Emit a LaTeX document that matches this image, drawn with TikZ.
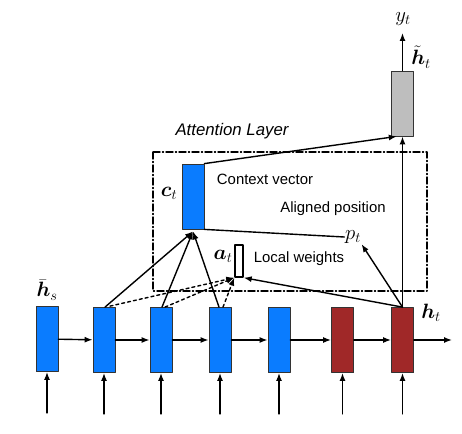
\documentclass[tikz,border=0pt]{standalone}
\usepackage{amsmath,bm}
\usepackage{fontspec}
\setmainfont{Liberation Sans}
\usetikzlibrary{calc,arrows.meta}

\definecolor{srcblue}{RGB}{10,124,255}
\definecolor{tgtred}{RGB}{160,40,40}
\definecolor{outgray}{RGB}{190,190,190}

\tikzset{
  hid/.style={draw=black!80,line width=0.8pt,minimum width=22pt,minimum height=65pt,inner sep=0pt},
  src/.style={hid,fill=srcblue},
  tgt/.style={hid,fill=tgtred},
  lbl/.style={font=\fontsize{20}{24}\selectfont,inner sep=0pt},
  txt/.style={font=\fontsize{14.9}{17}\selectfont,inner sep=0pt},
}

\begin{document}
\begin{tikzpicture}[x=1pt,y=-1pt,line cap=round,line join=round,>={Latex[length=8pt,width=6pt]},line width=1.4pt]
  \useasboundingbox (0,0) rectangle (462,433);
  % attention layer
  \draw[line width=1.4pt,dash pattern=on 7pt off 2.5pt on 1pt off 2.5pt] (153,152) rectangle (427,291);
  \node[txt,font=\fontsize{16.8}{19}\selectfont\itshape] (attn) at (232,131) {Attention Layer};
  % hidden states
  \node[src] (h1) at (47,339) {};
  \node[src] (h2) at (104,340) {};
  \node[src] (h3) at (161,340) {};
  \node[src] (h4) at (220,340) {};
  \node[src] (h5) at (279,340) {};
  \node[tgt] (h6) at (342.5,340) {};
  \node[tgt] (h7) at (402.5,340) {};
  \foreach \i in {1,...,7} {
    \coordinate (in\i) at ($(h\i.south)+(0,41)$);
    \draw[->] (in\i) -- (h\i.south);
  }
  \foreach \a/\b in {1/2,2/3,3/4,4/5,5/6,6/7} {
    \draw[->] (h\a) -- (h\b);
  }
  \coordinate (out) at (452,340);
  \draw[->] (h7) -- (out);
  \node[lbl] (hs) at (47,290) {$\bar{\bm{h}}_s$};
  \node[lbl] (ht) at (431,313) {$\bm{h}_t$};
  % context vector, weights, position
  \node[src] (ct) at (193,196.5) {};
  \node[lbl] (ctl) at (169,193) {$\bm{c}_t$};
  \node[txt] (ctx) at (265,179) {Context vector};
  \node[draw=black,line width=1.4pt,fill=white,minimum width=8pt,minimum height=32pt,inner sep=0pt] (at) at (239,261) {};
  \node[lbl] (atl) at (223,256) {$\bm{a}_t$};
  \node[txt] (lw) at (299,259) {Local weights};
  \node[lbl] (pt) at (353,237) {$p_t$};
  \node[txt] (ap) at (333,209) {Aligned position};
  % output
  \node[hid,fill=outgray] (htil) at (402.5,103.5) {};
  \coordinate (yt) at (402.5,33);
  \draw[->] (htil.north) -- (yt);
  \node[lbl] (ytl) at (403,19) {$y_t$};
  \node[lbl] (htl) at (421,57) {$\tilde{\bm{h}}_t$};
  % connections
  \coordinate (cin) at ($(ct.south)+(0,2)$);
  \draw[->] ($(h2.north)+(1,0)$) -- (cin);
  \draw[->] ($(h3.north)+(1,0)$) -- (cin);
  \draw[->] ($(h4.north)+(-1,0)$) -- (cin);
  \draw[->,dashed] ($(h2.north)+(6,-1)$) -- (at.south west);
  \draw[->,dashed] ($(h3.north)+(4,0)$) -- (at.south west);
  \draw[->,dashed] ($(h4.north)+(3,0)$) -- (at.south west);
  \draw[->] (h7.north) -- (at.south east);
  \draw[->] (h7.north) -- (pt.south east);
  \draw (ct.south east) -- (pt.west);
  \draw[->] (ct.north east) -- ($(htil.south)!0.5!(htil.south west)$);
  \draw[->] (h7.north) -- (htil.south);
\end{tikzpicture}
\end{document}
